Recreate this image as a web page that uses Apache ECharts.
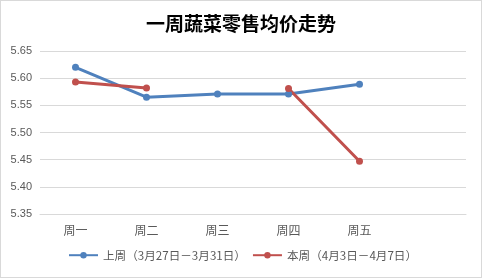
<!DOCTYPE html>
<html><head><meta charset="utf-8">
<script src="https://cdn.jsdelivr.net/npm/echarts@6/dist/echarts.min.js"></script>
<style>html,body{margin:0;padding:0;background:#fff}#c{width:482px;height:278px;box-sizing:border-box;border:1px solid #d9d9d9}</style>
</head><body><div id="c"></div>
<script>
var categories = ['周一','周二','周三','周四','周五',''];
var lastWeek = [5.620, 5.565, 5.571, 5.571, 5.589, null];
var thisWeek = [5.593, 5.582, null, 5.581, 5.447, null];
var seriesNames = ['上周（3月27日－3月31日）','本周（4月3日－4月7日）'];
var yTicks = {min:5.35, max:5.65, interval:0.05};
var chart = echarts.init(document.getElementById('c'));
chart.setOption({
  animation:false,
  title:{text:'一周蔬菜零售均价走势',left:'center',top:8,textStyle:{fontSize:19,fontWeight:'bold',color:'#000',fontFamily:'Noto Sans CJK SC'}},
  legend:{left:62,bottom:11,itemWidth:29,itemHeight:8,itemGap:6,textStyle:{fontSize:11.6,color:'#595959',fontFamily:'Noto Sans CJK SC'},data:seriesNames},
  grid:{left:39,right:15,top:50,bottom:63,containLabel:false},
  xAxis:{type:'category',data:categories,boundaryGap:true,axisLine:{lineStyle:{color:'#d9d9d9'}},axisTick:{show:false},axisLabel:{color:'#595959',fontSize:12,margin:10,fontFamily:'Noto Sans CJK SC'}},
  yAxis:{type:'value',min:yTicks.min,max:yTicks.max,interval:yTicks.interval,axisLine:{show:false},axisTick:{show:false},splitLine:{lineStyle:{color:'#d9d9d9'}},axisLabel:{color:'#595959',fontSize:11,margin:8,formatter:function(v){return v.toFixed(2);}}},
  series:[
    {name:seriesNames[0],type:'line',data:lastWeek,symbol:'circle',symbolSize:7,connectNulls:false,lineStyle:{width:3,color:'#4f81bd'},itemStyle:{color:'#4f81bd'}},
    {name:seriesNames[1],type:'line',data:thisWeek,symbol:'circle',symbolSize:7,connectNulls:false,lineStyle:{width:3,color:'#c0504d'},itemStyle:{color:'#c0504d'}}
  ]
});
</script></body></html>
